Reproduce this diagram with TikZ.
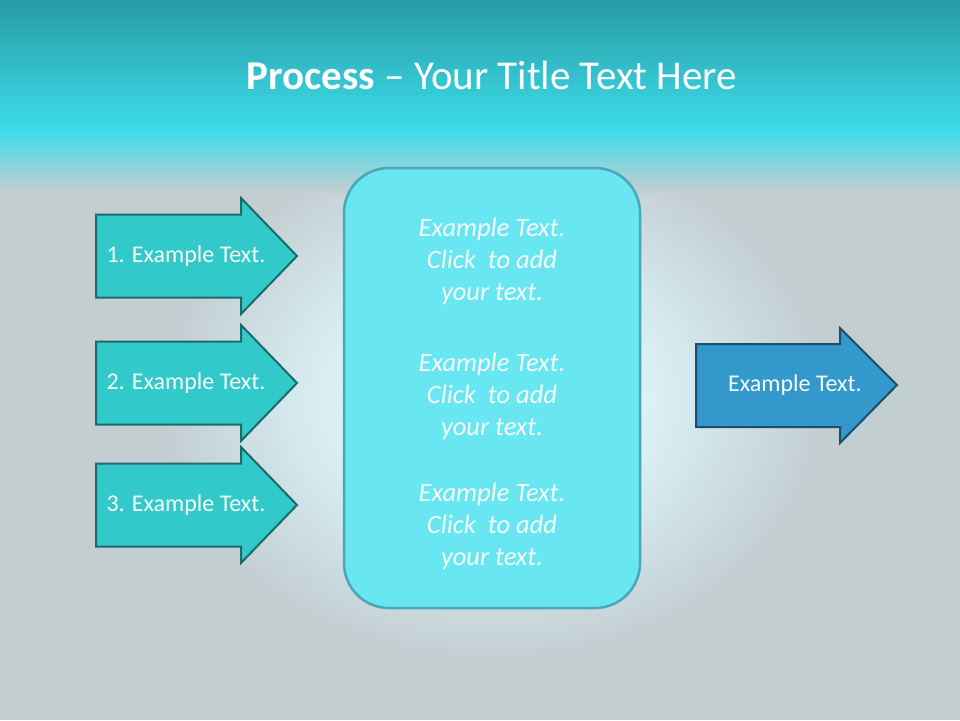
\documentclass[tikz,border=0pt]{standalone}
\usepackage{fontspec}
\setmainfont{Carlito}
\usepackage{tikz}
\usetikzlibrary{shapes}

\definecolor{bandtop}{HTML}{289BA7}
\definecolor{bandmid}{HTML}{3CDDE9}
\definecolor{bggrey}{HTML}{C3CED1}
\definecolor{glowblue}{HTML}{DDF6FC}
\definecolor{boxfill}{HTML}{68E7F2}
\definecolor{boxline}{HTML}{4AA7B9}
\definecolor{tealfill}{HTML}{31C9C9}
\definecolor{tealline}{HTML}{1C6A6C}
\definecolor{bluefill}{HTML}{3398CB}
\definecolor{blueline}{HTML}{1B4E70}
\definecolor{txtwhite}{HTML}{F6FCFC}
\pgfdeclareradialshading{glow}{\pgfpoint{0bp}{0bp}}{color(0bp)=(glowblue); color(10bp)=(glowblue); color(25bp)=(bggrey); color(50bp)=(bggrey)}

\begin{document}
\begin{tikzpicture}[x=1pt,y=-1pt]
\tikzstyle{larrow}=[fill=tealfill,draw=tealline,line width=2pt,line join=miter]
\tikzstyle{rarrow}=[fill=bluefill,draw=blueline,line width=2pt,line join=miter]
\tikzstyle{arrtext}=[text=txtwhite,font=\fontsize{24}{28}\selectfont]
\tikzstyle{cbox}=[rectangle,rounded corners=45pt,fill=boxfill,draw=boxline,line width=2.5pt,minimum width=296pt,minimum height=440pt]
\tikzstyle{ctext}=[text=txtwhite,align=center,font=\fontsize{26.5}{32}\selectfont\itshape]
\useasboundingbox (0,0) rectangle (960,720);
% background
\fill[bggrey] (0,0) rectangle (960,720);
\shade[shading=glow] (492,400) ellipse (330 and 260);
\shade[top color=bandtop,bottom color=bandmid] (0,0) rectangle (960,130);
\shade[top color=bandmid,bottom color=bggrey] (0,130) rectangle (960,192);
\node[text=white,font=\fontsize{41}{48}\selectfont] (title) at (492,75) {\textbf{Process} – Your Title Text Here};
% left arrows
\foreach \y/\n in {256/1,383/2,505/3}{
  \draw[larrow] (96,{\y-41.5}) -- (241,{\y-41.5}) -- (241,{\y-58}) -- (297,\y)
    -- (241,{\y+58}) -- (241,{\y+41.5}) -- (96,{\y+41.5}) -- cycle;
  \node[arrtext] (step\n) at (186,\y) {\n. Example Text.};
}
% middle box
\node[cbox] (mid) at (492,388) {};
\node[ctext] (mid1) at (492,261) {Example Text.\\Click~ to add\\your text.};
\node[ctext] (mid2) at (492,396) {Example Text.\\Click~ to add\\your text.};
\node[ctext] (mid3) at (492,526) {Example Text.\\Click~ to add\\your text.};
% right arrow
\draw[rarrow] (696,344) -- (840,344) -- (840,328) -- (897,385)
  -- (840,443) -- (840,427) -- (696,427) -- cycle;
\node[arrtext] (result) at (795,385) {Example Text.};
\end{tikzpicture}
\end{document}
